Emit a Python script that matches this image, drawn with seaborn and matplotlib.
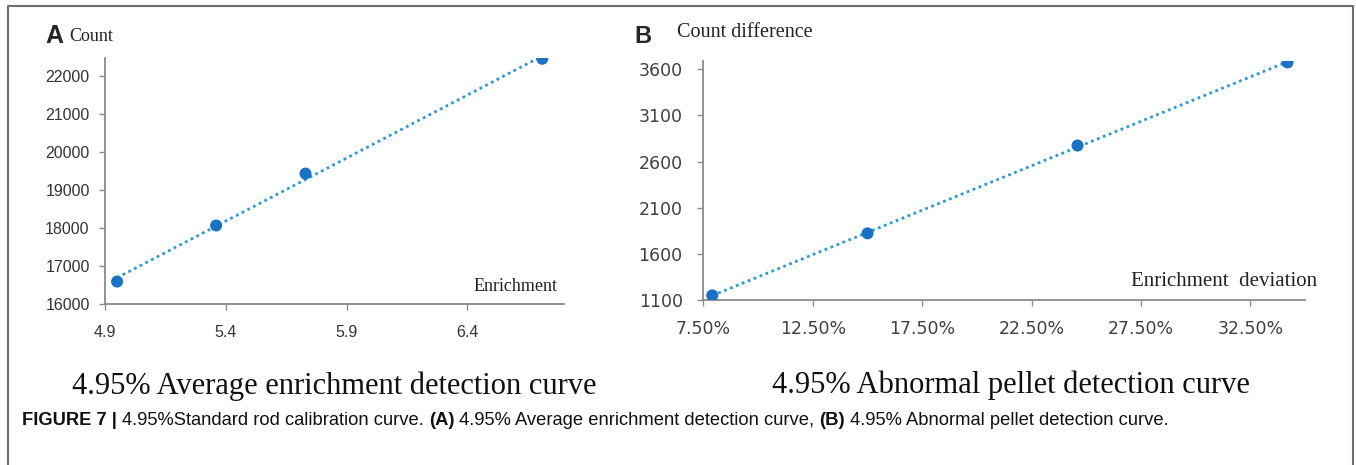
import numpy as np
import pandas as pd
import matplotlib
matplotlib.use("Agg")
import matplotlib.pyplot as plt
from matplotlib.lines import Line2D
import seaborn as sns

# ---- data ----
enrichment = [4.95, 5.36, 5.73, 6.71]
counts = [16590, 18065, 19430, 22450]

deviation_pct = [7.9, 15.0, 24.6, 34.2]
count_diff = [1150, 1822, 2774, 3674]

a_xticks = [4.9, 5.4, 5.9, 6.4]
a_yticks = [16000, 17000, 18000, 19000, 20000, 21000, 22000]
b_xticks = [7.5, 12.5, 17.5, 22.5, 27.5, 32.5]
b_yticks = [1100, 1600, 2100, 2600, 3100, 3600]

df_a = pd.DataFrame({"x": enrichment, "y": counts})
df_b = pd.DataFrame({"x": deviation_pct, "y": count_diff})

sns.set_style("white")
W, H = 1356, 465
fig = plt.figure(figsize=(W / 100, H / 100), dpi=100)

def fx(px):
    return px / W

def fy(py):
    return 1 - py / H

dot_color = "#1a72c4"
line_color = "#2a9ad2"
spine_color = "#8a8a8a"

def style_axis(ax, tick_font, tick_size, tick_color, ypad, xpad):
    sns.despine(ax=ax)
    for s in ["left", "bottom"]:
        ax.spines[s].set_color(spine_color)
        ax.spines[s].set_linewidth(1.3)
    ax.tick_params(axis="both", direction="out", length=4, width=1,
                   color=spine_color, labelcolor=tick_color,
                   left=True, bottom=True)
    ax.tick_params(axis="y", pad=ypad)
    ax.tick_params(axis="x", pad=xpad)
    for lab in ax.get_xticklabels() + ax.get_yticklabels():
        lab.set_fontfamily(tick_font)
        lab.set_fontsize(tick_size)
    ax.set_xlabel("")
    ax.set_ylabel("")
    ax.grid(False)

# ---- panel A ----
ax_a = fig.add_axes([fx(105), fy(304), fx(564) - fx(105), fy(58) - fy(304)])
sns.regplot(data=df_a, x="x", y="y", ax=ax_a, scatter=False, ci=None,
            line_kws=dict(color=line_color, lw=2, ls=(0, (1, 1.3))))
sns.scatterplot(data=df_a, x="x", y="y", ax=ax_a, color=dot_color,
                s=75, edgecolor="none", zorder=3)
ax_a.set_xlim(4.9, 6.8)
ax_a.set_ylim(16000, 22470)
ax_a.set_xticks(a_xticks)
ax_a.set_xticklabels([f"{v:.1f}" for v in a_xticks])
ax_a.set_yticks(a_yticks)
ax_a.set_yticklabels([str(v) for v in a_yticks])
style_axis(ax_a, "Liberation Sans", 11.5, "#333333", 7, 11)

# ---- panel B ----
ax_b = fig.add_axes([fx(703.5), fy(300), fx(1305) - fx(703.5), fy(61) - fy(300)])
sns.regplot(data=df_b, x="x", y="y", ax=ax_b, scatter=False, ci=None,
            line_kws=dict(color=line_color, lw=2, ls=(0, (1, 1.3))))
sns.scatterplot(data=df_b, x="x", y="y", ax=ax_b, color=dot_color,
                s=75, edgecolor="none", zorder=3)
ax_b.set_xlim(7.5, 35)
ax_b.set_ylim(1100, 3690)
ax_b.set_xticks(b_xticks)
ax_b.set_xticklabels([f"{v:.2f}%" for v in b_xticks])
ax_b.set_yticks(b_yticks)
ax_b.set_yticklabels([str(v) for v in b_yticks])
style_axis(ax_b, "DejaVu Sans", 12.5, "#404040", 11, 10.5)

# ---- panel letters and axis titles ----
fig.text(fx(45), fy(43), "A", fontfamily="Liberation Sans", fontweight="bold",
         fontsize=18, va="baseline")
fig.text(fx(69), fy(41), "Count", fontfamily="Liberation Serif",
         fontsize=13, color="#222222", va="baseline")
fig.text(fx(558), fy(291), "Enrichment", fontfamily="Liberation Serif",
         fontsize=13, color="#222222", va="baseline", ha="right")

fig.text(fx(634), fy(43), "B", fontfamily="Liberation Sans", fontweight="bold",
         fontsize=17, va="baseline")
fig.text(fx(677), fy(37), "Count difference", fontfamily="Liberation Serif",
         fontsize=14.5, color="#222222", va="baseline")
fig.text(fx(1317), fy(286), "Enrichment  deviation", fontfamily="Liberation Serif",
         fontsize=15, color="#222222", va="baseline", ha="right")

# ---- sub captions ----
fig.text(fx(72), fy(394), "4.95% Average enrichment detection curve",
         fontfamily="Liberation Serif", fontsize=22, color="#111111", va="baseline")
fig.text(fx(772), fy(393), "4.95% Abnormal pellet detection curve",
         fontfamily="Liberation Serif", fontsize=22, color="#111111", va="baseline")

# ---- figure caption (bold and regular runs placed one after another) ----
caption_runs = [
    ("FIGURE 7 | ", "bold"),
    ("4.95%Standard rod calibration curve. ", "normal"),
    ("(A)", "bold"),
    (" 4.95% Average enrichment detection curve, ", "normal"),
    ("(B)", "bold"),
    (" 4.95% Abnormal pellet detection curve.", "normal"),
]
x_px = 22
for txt, weight in caption_runs:
    t = fig.text(fx(x_px), fy(425), txt, fontfamily="Liberation Sans",
                 fontweight=weight, fontsize=13.2, color="#111111", va="baseline")
    fig.canvas.draw()
    x_px = t.get_window_extent().x1

# ---- outer frame (open at the bottom) ----
frame = Line2D([fx(8), fx(8), fx(1353), fx(1353)], [0, fy(6), fy(6), 0],
               transform=fig.transFigure, color="#6e6e6e", lw=1.5)
fig.add_artist(frame)

fig.savefig("out.png", dpi=100)
